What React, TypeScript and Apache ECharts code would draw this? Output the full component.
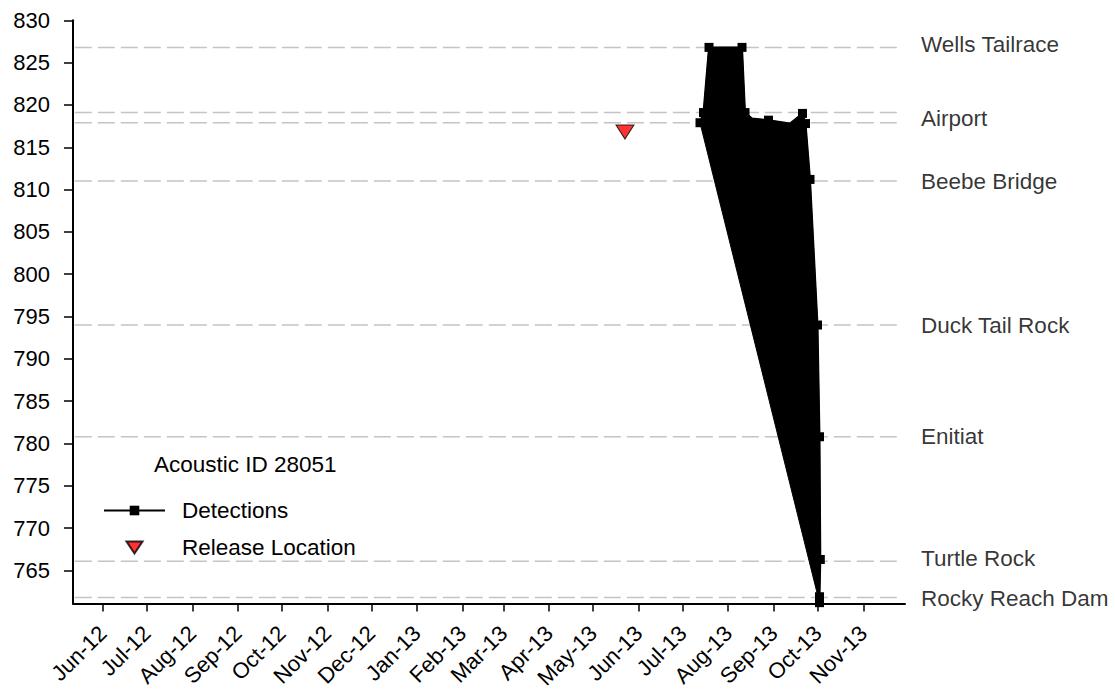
import React, { useEffect, useRef } from "react";
import * as echarts from "echarts";

// ---- data ----
const detectionTimes = [
  "2013-07-12 18:30",
  "2013-07-15 03:30",
  "2013-07-18 21:30",
  "2013-08-10 09:00",
  "2013-08-12 10:00",
  "2013-08-17 04:00",
  "2013-08-28 10:00",
  "2013-09-12 01:30",
  "2013-09-20 13:40",
  "2013-09-22 15:00",
  "2013-09-25 16:30",
  "2013-09-30 19:00",
  "2013-10-02 03:30",
  "2013-10-02 17:00",
  "2013-10-02 03:30",
  "2013-10-02 03:30",
];
const detectionRkm = [
  817.9, 819.1, 826.8, 826.8, 819.1, 818.4, 818.2, 817.8, 819.0, 817.8, 811.2,
  794.0, 780.8, 766.3, 761.9, 761.2,
];
const detectionNoMarker = [5, 7];

const releaseTime = "2013-05-22 16:00";
const releaseRkm = 816.8;

const receiverLineRkm = [826.8, 819.1, 817.9, 811.0, 794.0, 780.8, 766.1, 761.8];
const receiverLineStart = "2012-05-13 00:00";
const receiverLineEnd = "2013-11-26 00:00";
const siteNames = [
  "Wells Tailrace",
  "Airport",
  "Beebe Bridge",
  "Duck Tail Rock",
  "Enitiat",
  "Turtle Rock",
  "Rocky Reach Dam",
];
const siteLabelRkm = [827.1, 818.4, 810.9, 794.0, 780.8, 766.4, 761.7];

const monthTicks = [
  "2012-06-01", "2012-07-01", "2012-08-01", "2012-09-01", "2012-10-01", "2012-11-01",
  "2012-12-01", "2013-01-01", "2013-02-01", "2013-03-01", "2013-04-01", "2013-05-01",
  "2013-06-01", "2013-07-01", "2013-08-01", "2013-09-01", "2013-10-01", "2013-11-01",
];
const monthNames = ["Jan", "Feb", "Mar", "Apr", "May", "Jun", "Jul", "Aug", "Sep", "Oct", "Nov", "Dec"];
const yTicks = [765, 770, 775, 780, 785, 790, 795, 800, 805, 810, 815, 820, 825, 830];
const xMin = "2012-05-11 18:00";
const xMax = "2013-11-29 09:00";
const yMin = 761.1;
const yMax = 830;
const legendTitle = "Acoustic ID 28051";

const FONT = "'Liberation Sans', Arial, sans-serif";

function toTs(s: string): number {
  const [d, t] = s.split(" ");
  const [y, m, day] = d.split("-").map(Number);
  let hh = 0, mm = 0;
  if (t) {
    [hh, mm] = t.split(":").map(Number);
  }
  return new Date(y, m - 1, day, hh, mm).getTime();
}

export default function App() {
  const ref = useRef<HTMLDivElement>(null);
  useEffect(() => {
    if (!ref.current) return;
    const chart = echarts.init(ref.current, null, { renderer: "svg" });
    const detPoints = detectionTimes.map((t, i) => [toTs(t), detectionRkm[i]]);
    const xMaxTs = toTs(xMax);
    const monthTs = monthTicks.map(toTs);

    const receiverSeries = receiverLineRkm.map((v, i) => ({
      name: "receiver" + i,
      type: "line",
      z: 1,
      silent: true,
      symbol: "none",
      lineStyle: { color: "#c4c4c4", type: [17, 6], width: 1.5 },
      data: [
        [toTs(receiverLineStart), v],
        [toTs(receiverLineEnd), v],
      ],
    }));

    const option: any = {
      animation: false,
      backgroundColor: "#fff",
      textStyle: { fontFamily: FONT },
      title: {
        text: legendTitle,
        left: 154,
        top: 453,
        padding: 0,
        textStyle: { fontSize: 22.5, fontWeight: "normal", color: "#000", fontFamily: FONT },
      },
      legend: {
        orient: "vertical",
        left: 103,
        top: 499,
        padding: 0,
        itemWidth: 61,
        itemHeight: 12,
        itemGap: 14,
        symbolRotate: 0,
        textStyle: { fontSize: 22.5, color: "#000", fontFamily: FONT, padding: [0, 0, 0, 12] },
        data: [
          { name: "Detections" },
          { name: "Release Location", icon: "path://M0,0L16,0L8,12Z" },
        ],
      },
      grid: { left: 73, right: 210, top: 20.3, bottom: 93.5, containLabel: false },
      xAxis: {
        type: "value",
        min: toTs(xMin),
        max: xMaxTs,
        axisLine: { show: true, lineStyle: { color: "#000", width: 2 } },
        axisTick: {
          show: true,
          length: 8,
          inside: false,
          lineStyle: { color: "#000", width: 1.5 },
          customValues: monthTs,
        },
        axisLabel: {
          customValues: monthTs,
          rotate: 45,
          margin: 26,
          fontSize: 22,
          color: "#000",
          fontFamily: FONT,
          formatter: (v: number) => {
            const d = new Date(v);
            return monthNames[d.getMonth()] + "-" + String(d.getFullYear()).slice(2);
          },
        },
        splitLine: { show: false },
      },
      yAxis: {
        type: "value",
        min: yMin,
        max: yMax,
        axisLine: { show: true, lineStyle: { color: "#000", width: 2 } },
        axisTick: {
          show: true,
          length: 9,
          lineStyle: { color: "#000", width: 1.5 },
          customValues: yTicks,
        },
        axisLabel: {
          customValues: yTicks,
          margin: 23,
          fontSize: 22,
          color: "#000",
          fontFamily: FONT,
        },
        splitLine: { show: false },
      },
      series: [
        ...receiverSeries,
        {
          name: "sites",
          type: "scatter",
          symbolSize: 0,
          silent: true,
          z: 1,
          data: siteNames.map((n, i) => ({ name: n, value: [xMaxTs, siteLabelRkm[i]] })),
          label: {
            show: true,
            position: "right",
            distance: 16,
            formatter: (p: any) => p.name,
            fontSize: 22.5,
            color: "#000",
            fontFamily: FONT,
          },
        },
        {
          name: "DetectionsFill",
          type: "custom",
          z: 3,
          silent: true,
          data: detPoints,
          renderItem: (params: any, api: any) => {
            if (params.dataIndex !== 0) return null;
            const pts = detPoints.map((p) => api.coord(p));
            return {
              type: "polygon",
              shape: { points: pts },
              style: { fill: "#000", stroke: "#000", lineWidth: 1 },
            };
          },
        },
        {
          name: "Detections",
          type: "line",
          z: 4,
          showAllSymbol: true,
          symbol: "rect",
          symbolSize: 9,
          itemStyle: { color: "#000" },
          lineStyle: { color: "#000", width: 2 },
          data: detPoints.map((p, i) =>
            detectionNoMarker.includes(i) ? { value: p, symbol: "none" } : { value: p }
          ),
        },
        {
          name: "Release Location",
          type: "scatter",
          z: 5,
          symbol: "triangle",
          symbolRotate: 180,
          symbolSize: [18, 14],
          itemStyle: { color: "#ff0000", borderColor: "#000", borderWidth: 1 },
          data: [[toTs(releaseTime), releaseRkm]],
        },
      ],
    };
    chart.setOption(option);
    return () => chart.dispose();
  }, []);
  return (
    <div
      ref={ref}
      style={{ position: "fixed", left: 0, top: 0, width: 1115, height: 697, background: "#fff" }}
    />
  );
}
